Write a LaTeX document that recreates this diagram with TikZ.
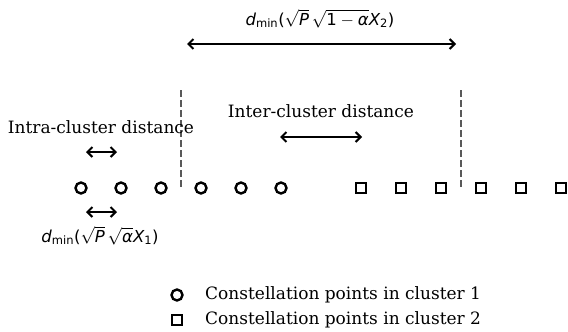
\documentclass[tikz,border=0pt]{standalone}
\usepackage{fontspec}
\setmainfont{DejaVu Serif}
\newfontfamily\dvs{DejaVu Sans}
\usetikzlibrary{arrows.meta}
\newcommand{\mi}[1]{\hbox{\dvs\itshape #1}}
\newcommand{\mr}[1]{\hbox{\dvs #1}}
\newcommand{\ms}[1]{\hbox{\dvs\fontsize{11.5}{12}\selectfont #1}}
\begin{document}
\begin{tikzpicture}[x=1pt,y=-1pt,
  lbl/.style={font=\fontsize{17}{19}\selectfont, inner sep=0pt},
  mlbl/.style={font=\fontsize{16.5}{19}\selectfont, inner sep=0pt},
  dist/.style={line width=2pt, {Straight Barb[length=5pt,width=10pt]}-{Straight Barb[length=5pt,width=10pt]}},
  cpt/.style={circle, draw, line width=2.4pt, minimum size=11pt, inner sep=0pt},
  spt/.style={rectangle, draw, line width=2.4pt, minimum size=10.5pt, inner sep=0pt},
  sep/.style={draw=black!65, line width=1.6pt, dash pattern=on 7pt off 3pt}]
\useasboundingbox (0,0) rectangle (568,332);
% cluster points
\foreach \i/\x in {1/81,2/121,3/161,4/201,5/241,6/281} \node[cpt] (c\i) at (\x,188) {};
\foreach \i/\x in {1/361,2/401,3/441,4/481,5/521,6/561} \node[spt] (s\i) at (\x,188) {};
% dashed separators
\coordinate (d1t) at (181,90); \coordinate (d1b) at (181,189);
\coordinate (d2t) at (461,90); \coordinate (d2b) at (461,189);
\draw[sep] (d1t) -- (d1b);
\draw[sep] (d2t) -- (d2b);
% top distance
\coordinate (ta) at (187,44); \coordinate (tb) at (456,44);
\draw[dist] (ta) -- (tb);
\node[mlbl, anchor=base] (tl) at (320,25) {$\mi{d}_{\ms{min}}\mr{(}\sqrt{\mi{P}}\,\sqrt{\mr{1}-\mi{α}}\mi{X}_{\ms{2}}\mr{)}$};
% inter-cluster
\node[lbl] (il) at (321,111) {Inter-cluster distance};
\coordinate (ia) at (280,137); \coordinate (ib) at (362,137);
\draw[dist] (ia) -- (ib);
% intra-cluster
\node[lbl] (al) at (101,127) {Intra-cluster distance};
\coordinate (aa) at (86,152); \coordinate (ab) at (117,152);
\draw[dist] (aa) -- (ab);
\coordinate (ba) at (86,212); \coordinate (bb) at (117,212);
\draw[dist] (ba) -- (bb);
\node[mlbl, anchor=base] (bl) at (100,242) {$\mi{d}_{\ms{min}}\mr{(}\sqrt{\mi{P}}\,\sqrt{\mi{α}}\mi{X}_{\ms{1}}\mr{)}$};
% legend
\node[cpt] (lc) at (177,295) {};
\node[spt] (ls) at (177,320) {};
\node[lbl, anchor=west] (lt1) at (205,295) {Constellation points in cluster 1};
\node[lbl, anchor=west] (lt2) at (205,320) {Constellation points in cluster 2};
\end{tikzpicture}
\end{document}
